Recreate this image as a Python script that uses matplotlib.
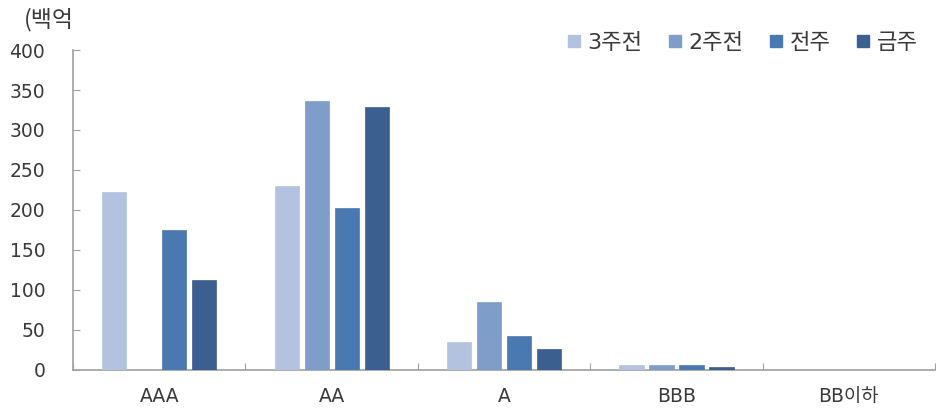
import matplotlib
matplotlib.use("Agg")
import matplotlib.pyplot as plt
from matplotlib.lines import Line2D
import numpy as np

plt.rcParams['font.family'] = ['DejaVu Sans', 'Noto Sans CJK KR']

categories = ["AAA", "AA", "A", "BBB", "BB이하"]
series_names = ["3주전", "2주전", "전주", "금주"]
week3_ago = [222, 230, 35, 6, 0]
week2_ago = [0, 336, 85, 6, 0]
last_week = [175, 202, 42, 6, 0]
this_week = [112, 329, 26, 3, 0]
series_values = [week3_ago, week2_ago, last_week, this_week]
colors = ["#B3C3DF", "#7F9DC9", "#4A78B1", "#3B6090"]
y_ticks = [0, 50, 100, 150, 200, 250, 300, 350, 400]

text_color = "#3A3A3A"
axis_color = "#A0A0A0"

fig = plt.figure(figsize=(9.36, 4.17), dpi=100)
ax = fig.add_axes([0.078, 0.113, 0.921, 0.767])

x = np.arange(len(categories))
slot = 0.174
bar_w = 0.14
for i, (vals, col) in enumerate(zip(series_values, colors)):
    offs = (i - 1.5) * slot
    ax.bar(x + offs, vals, width=bar_w, color=col, edgecolor=col, linewidth=0.5, zorder=3)

ax.set_xlim(-0.5, len(categories) - 0.5)
ax.set_ylim(0, 400)
ax.set_yticks(y_ticks)
ax.set_yticklabels([str(v) for v in y_ticks], fontsize=13.5, color=text_color)

# category boundaries carry the tick marks; labels sit at category centres
ax.set_xticks(np.arange(len(categories) + 1) - 0.5)
ax.set_xticklabels([])
ax.set_xticks(x, minor=True)
ax.set_xticklabels(categories, minor=True, fontsize=13.5, color=text_color)
ax.tick_params(axis="x", which="minor", length=0, pad=12)
ax.tick_params(axis="x", which="major", direction="in", length=5, color=axis_color)
ax.tick_params(axis="y", direction="in", length=5, color=axis_color, pad=20)

for side in ["top", "right"]:
    ax.spines[side].set_visible(False)
for side in ["left", "bottom"]:
    ax.spines[side].set_color(axis_color)
    ax.spines[side].set_linewidth(1.2)

fig.text(0.026, 0.952, "(백억", fontsize=16.5, color=text_color, ha="left", va="center",
         family=['Noto Sans CJK KR', 'DejaVu Sans'])

handles = [Line2D([], [], marker="s", linestyle="none", markersize=9,
                  markerfacecolor=c, markeredgecolor=c) for c in colors]
leg = ax.legend(handles, series_names, loc="center right", bbox_to_anchor=(0.980, 1.022),
                ncol=4, frameon=False, handletextpad=0.2, columnspacing=1.08,
                handlelength=0.8, borderaxespad=0, borderpad=0, labelcolor=text_color,
                prop={'family': ['DejaVu Sans', 'Noto Sans CJK KR'], 'size': 16})

fig.savefig("out.png", dpi=100)
